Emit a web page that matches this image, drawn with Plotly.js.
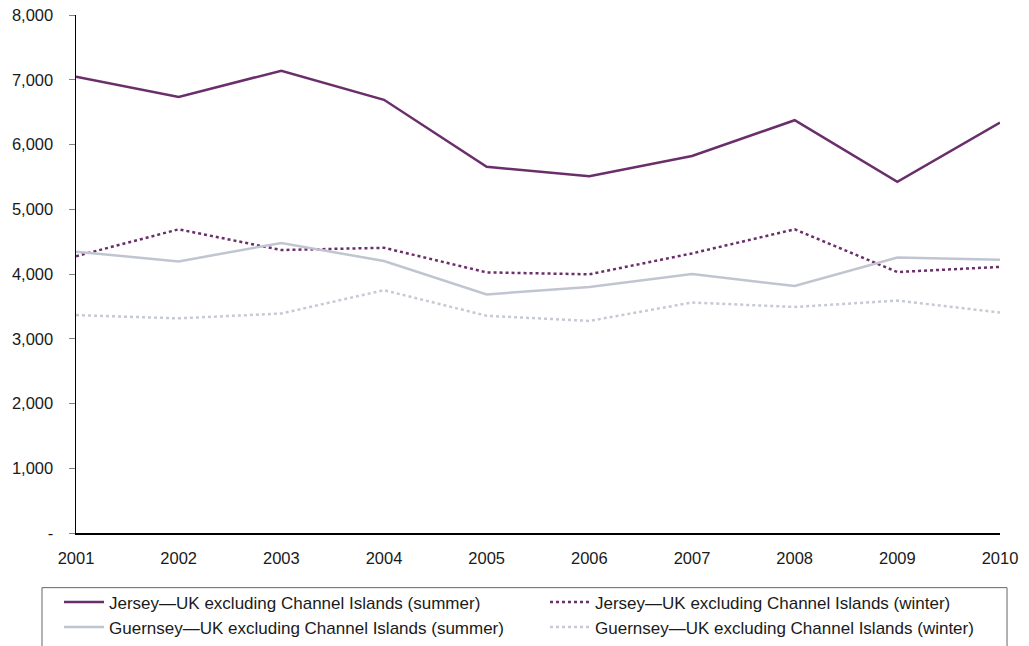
<!DOCTYPE html>
<html>
<head>
<meta charset="utf-8">
<script src="https://cdn.plot.ly/plotly-3.0.1.min.js"></script>
<style>
  html, body { margin: 0; padding: 0; background: #ffffff; }
  #chart { width: 1029px; height: 646px; }
</style>
</head>
<body>
<div id="chart"></div>
<script>
// Passenger numbers between the Channel Islands and the rest of the UK
const years = [2001, 2002, 2003, 2004, 2005, 2006, 2007, 2008, 2009, 2010];

const jerseySummer   = [7045, 6735, 7140, 6690, 5655, 5510, 5822, 6375, 5425, 6337];
const jerseyWinter   = [4275, 4690, 4370, 4405, 4025, 3995, 4318, 4690, 4030, 4110];
const guernseySummer = [4345, 4195, 4480, 4200, 3685, 3800, 4000, 3815, 4255, 4220];
const guernseyWinter = [3365, 3315, 3390, 3750, 3355, 3275, 3560, 3490, 3590, 3405];

const seriesNames = [
  'Jersey\u2014UK excluding Channel Islands (summer)',
  'Jersey\u2014UK excluding Channel Islands (winter)',
  'Guernsey\u2014UK excluding Channel Islands (summer)',
  'Guernsey\u2014UK excluding Channel Islands (winter)'
];

const yTickVals = [0, 1000, 2000, 3000, 4000, 5000, 6000, 7000, 8000];
const yTickText = ['-', '1,000', '2,000', '3,000', '4,000', '5,000', '6,000', '7,000', '8,000'];

const purple = '#6a2e6a';
const greySolid = '#c0c5d1';
const greyDot = '#c6cad5';

function series(y, name, color, dash) {
  return {
    type: 'scatter',
    mode: 'lines',
    x: years,
    y: y,
    name: name,
    line: { color: color, width: 2.5, dash: dash },
    hoverinfo: 'skip'
  };
}

const traces = [
  series(jerseySummer, seriesNames[0], purple, 'solid'),
  series(jerseyWinter, seriesNames[1], purple, 'dot'),
  series(guernseySummer, seriesNames[2], greySolid, 'solid'),
  series(guernseyWinter, seriesNames[3], greyDot, 'dot')
];

const axisFont = { family: "'Liberation Sans', Arial, sans-serif", size: 16.5, color: '#1a1a1a' };
const legendFont = { family: "'Liberation Sans', Arial, sans-serif", size: 17, color: '#1a1a1a' };

const layout = {
  width: 1029,
  height: 646,
  margin: { l: 76, r: 29, t: 15, b: 113, autoexpand: false },
  paper_bgcolor: '#ffffff',
  plot_bgcolor: '#ffffff',
  font: axisFont,
  showlegend: true,
  hovermode: false,
  xaxis: {
    range: [2001, 2010],
    tickvals: years,
    ticktext: years.map(String),
    showgrid: false,
    zeroline: false,
    showline: true,
    linecolor: '#000000',
    linewidth: 1.5,
    ticks: '',
    ticklabelstandoff: 10,
    tickfont: axisFont
  },
  yaxis: {
    range: [0, 8000],
    tickvals: yTickVals,
    ticktext: yTickText,
    showgrid: false,
    zeroline: false,
    showline: true,
    linecolor: '#000000',
    linewidth: 1.5,
    ticks: 'outside',
    ticklen: 6,
    tickwidth: 1,
    tickcolor: '#808080',
    ticklabelstandoff: 12,
    tickfont: axisFont
  },
  // legend frame, running off the bottom edge of the page
  shapes: [{
    type: 'rect',
    xref: 'paper',
    yref: 'paper',
    x0: -0.0368,
    x1: 1.0076,
    y0: -0.1055,
    y1: -0.25,
    line: { color: '#666666', width: 1 },
    fillcolor: 'rgba(0,0,0,0)',
    layer: 'below'
  }],
  legend: {
    orientation: 'h',
    x: -0.0184,
    xanchor: 'left',
    y: -0.0991,
    yanchor: 'top',
    borderwidth: 0,
    bgcolor: 'rgba(0,0,0,0)',
    entrywidth: 431,
    entrywidthmode: 'pixels',
    itemwidth: 40,
    font: legendFont,
    traceorder: 'normal'
  }
};

Plotly.newPlot('chart', traces, layout, { staticPlot: true, displayModeBar: false });
</script>
</body>
</html>
